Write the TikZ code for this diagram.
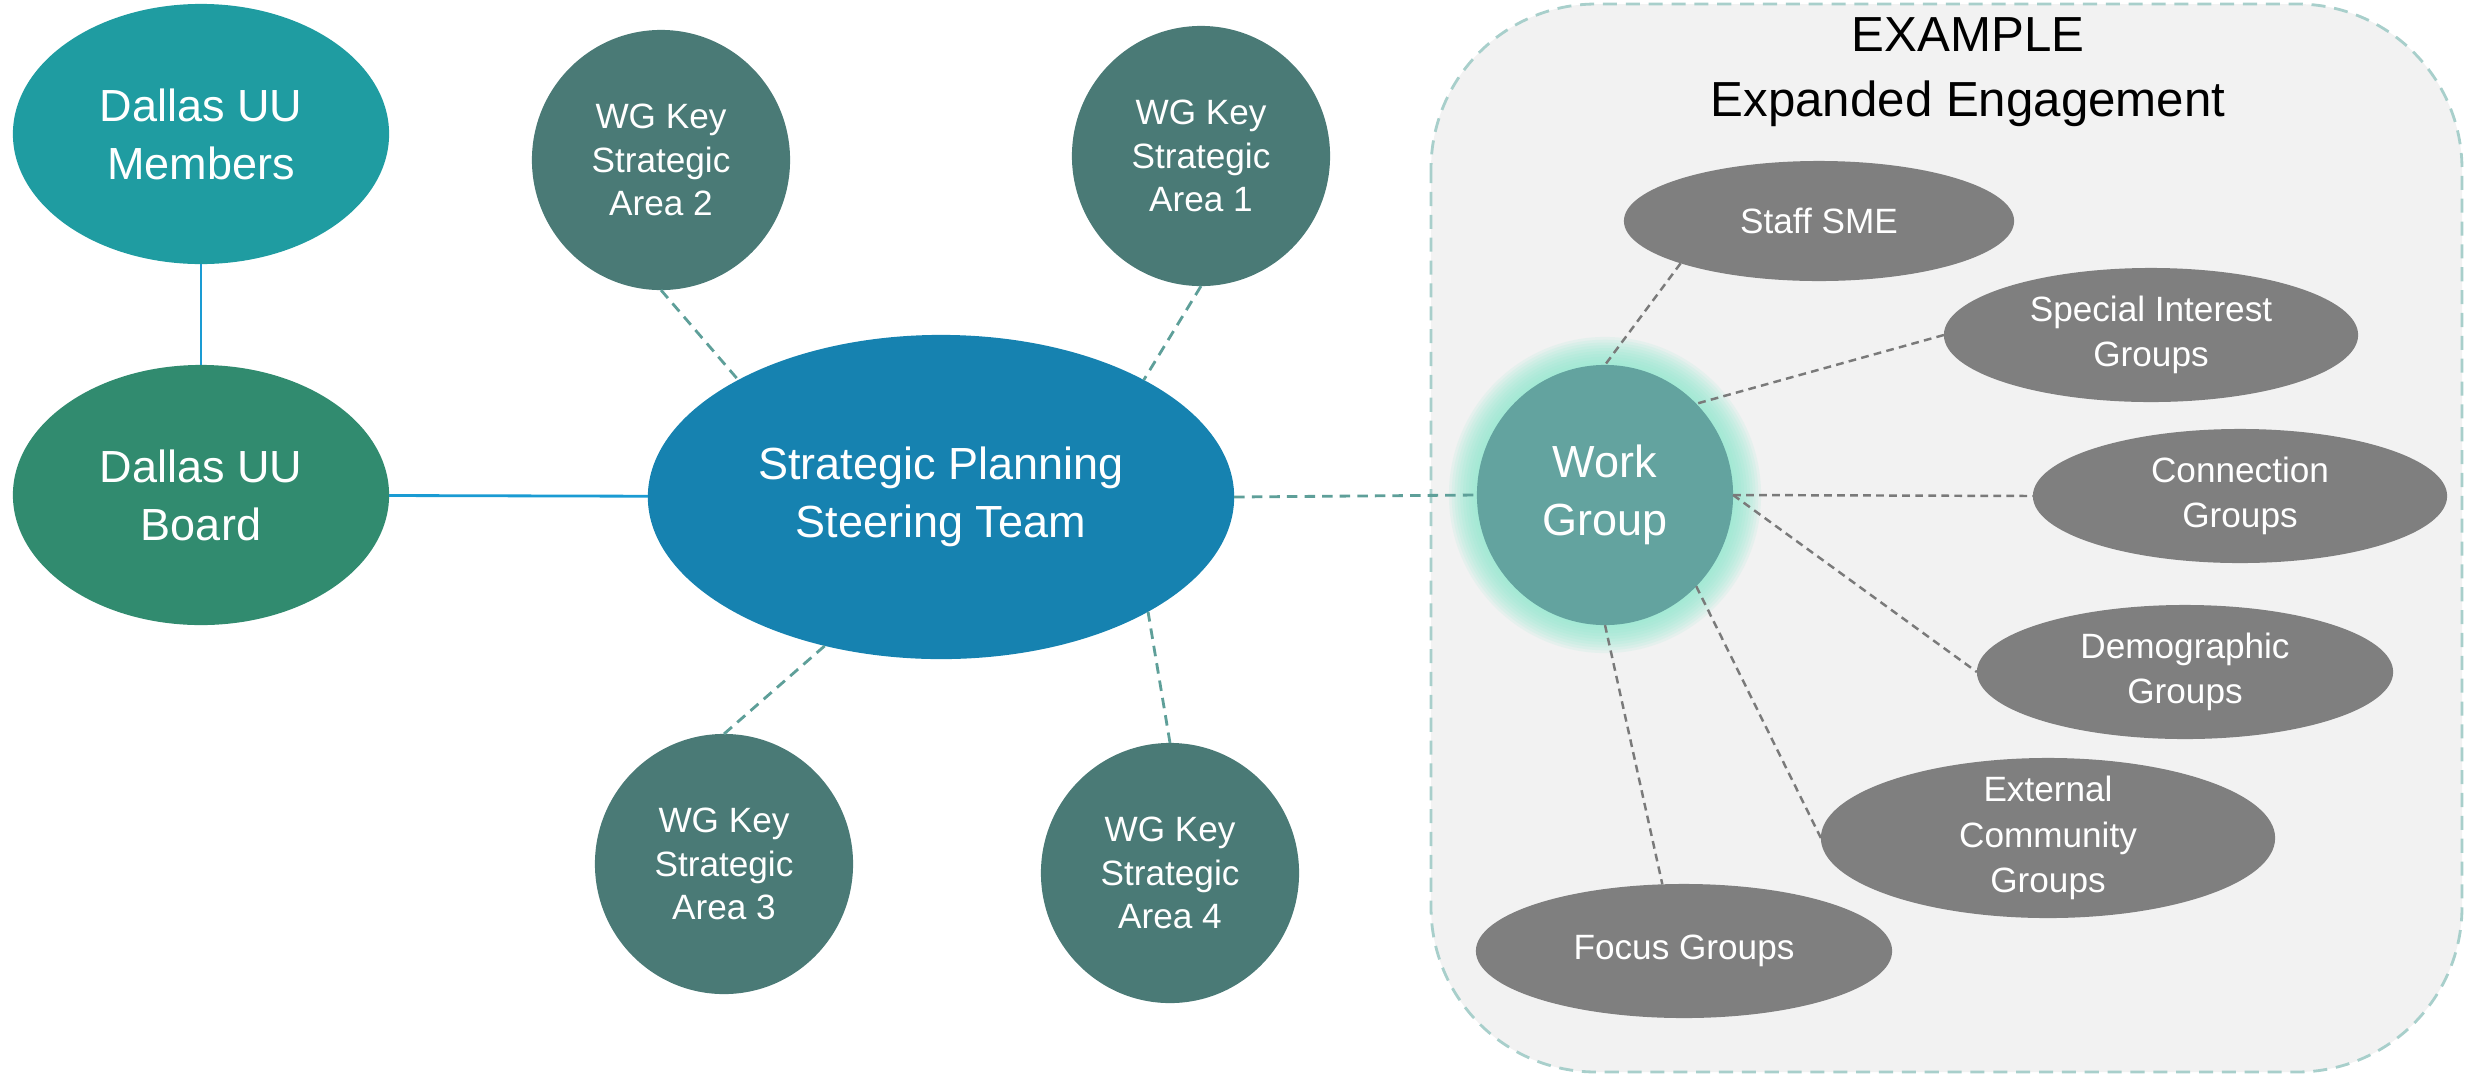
\documentclass[tikz,border=0pt]{standalone}
\usepackage{fontspec}
\setmainfont{Liberation Sans}
\usepackage{tikz}
\usetikzlibrary{shapes.geometric}

\definecolor{memcol}{HTML}{1F9CA1}
\definecolor{boardcol}{HTML}{318B6F}
\definecolor{spstcol}{HTML}{1682B0}
\definecolor{kacol}{HTML}{4A7A76}
\definecolor{wgcol}{HTML}{63A39F}
\definecolor{glowcol}{HTML}{8FE9CF}
\definecolor{grpcol}{HTML}{7F7F7F}
\definecolor{boxcol}{HTML}{F2F2F2}
\definecolor{boxline}{HTML}{A8CFCB}
\definecolor{bluline}{HTML}{1A9BD3}
\definecolor{tealine}{HTML}{5E9F99}
\definecolor{grayline}{HTML}{7A7A7A}

\begin{document}
\begin{tikzpicture}[x=0.01cm,y=-0.01cm,
	blob/.style={ellipse,inner sep=0pt,outer sep=0pt,text=white,align=center},
	bigblob/.style={blob,minimum width=3.76cm,minimum height=2.6cm,font=\fontsize{12.8}{16.5}\selectfont},
	kablob/.style={blob,fill=kacol,minimum width=2.58cm,minimum height=2.6cm,font=\fontsize{10}{12.3}\selectfont},
	grpblob/.style={blob,fill=grpcol,minimum height=1.34cm,font=\fontsize{10}{13}\selectfont},
	solidln/.style={bluline,line width=0.8pt},
	tealln/.style={tealine,line width=0.8pt,dash pattern=on 3pt off 2pt},
	grayln/.style={grayline,line width=0.7pt,dash pattern=on 2.2pt off 1.5pt}]
	\useasboundingbox (0,0) rectangle (2466,1075);
	% expanded engagement box
	\draw[boxline,fill=boxcol,line width=0.8pt,dash pattern=on 4pt off 2.5pt,rounded corners=1.65cm] (1431,4) rectangle (2462,1072);
	\node (title) at (1968,72) [align=center,font=\fontsize{14}{18.5}\selectfont] {EXAMPLE\\Expanded Engagement};
	% glow behind the work group
	\foreach \g in {1,...,10}
		\fill[glowcol,opacity=0.13] (1605,495) ellipse ({1.28cm+\g*0.28mm} and {1.3cm+\g*0.28mm});
	% left side
	\node (mem) at (201,134) [bigblob,fill=memcol] {Dallas UU\\Members};
	\node (board) at (201,495) [bigblob,fill=boardcol] {Dallas UU\\Board};
	\node (spst) at (941,497) [bigblob,fill=spstcol,minimum width=5.86cm,minimum height=3.24cm] {Strategic Planning\\Steering Team};
	\node (ka2) at (661,160) [kablob] {WG Key\\Strategic\\Area 2};
	\node (ka1) at (1201,156) [kablob] {WG Key\\Strategic\\Area 1};
	\node (ka3) at (724,864) [kablob] {WG Key\\Strategic\\Area 3};
	\node (ka4) at (1170,873) [kablob] {WG Key\\Strategic\\Area 4};
	% right side
	\node (wg) at (1605,495) [bigblob,fill=wgcol,minimum width=2.56cm,minimum height=2.6cm] {Work\\Group};
	\node (sme) at (1819,221) [grpblob,minimum width=3.9cm,minimum height=1.2cm] {Staff SME};
	\node (sig) at (2151,335) [grpblob,minimum width=4.14cm] {Special Interest\\Groups};
	\node (cg) at (2240,496) [grpblob,minimum width=4.14cm] {Connection\\Groups};
	\node (dg) at (2185,672) [grpblob,minimum width=4.16cm] {Demographic\\Groups};
	\node (ecg) at (2048,838) [grpblob,minimum width=4.54cm,minimum height=1.6cm,inner ysep=-3pt] {External\\Community\\Groups};
	\node (fg) at (1684,951) [grpblob,minimum width=4.16cm] {Focus Groups};
	% connectors
	\draw[solidln] (mem) -- (board);
	\draw[solidln] (board) -- (spst);
	\draw[tealln] (ka2.south) -- (spst.150);
	\draw[tealln] (ka1.south) -- (spst.30);
	\draw[tealln] (ka3.north) -- (spst.232);
	\draw[tealln] (ka4.north) -- (spst.331);
	\draw[tealln] (spst.east) -- (wg.west);
	\draw[grayln] (sme.197) -- (wg.north);
	\draw[grayln] (sig.west) -- (wg.45);
	\draw[grayln] (wg.east) -- (cg.west);
	\draw[grayln] (wg.east) -- (dg.west);
	\draw[grayln] (wg.-45) -- (ecg.west);
	\draw[grayln] (wg.south) -- (fg.108);
\end{tikzpicture}
\end{document}
